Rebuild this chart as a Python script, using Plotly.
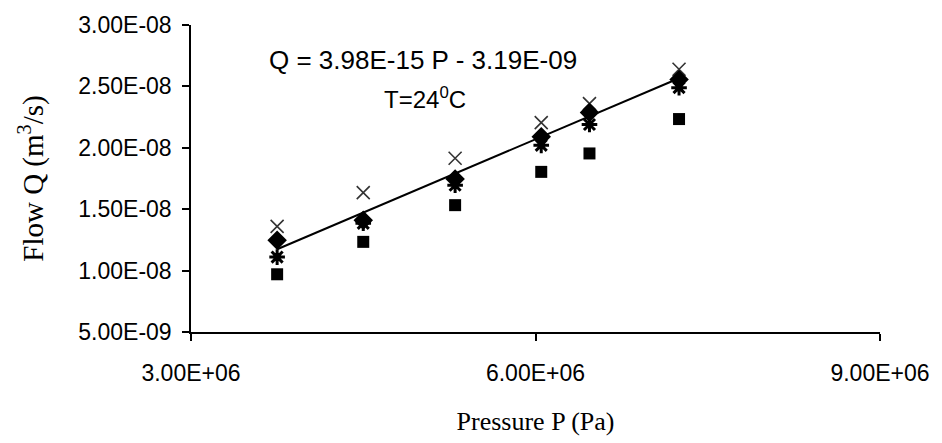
import plotly.graph_objects as go

# Data
pressure = [3.75e6, 4.50e6, 5.30e6, 6.05e6, 6.47e6, 7.25e6]
flow_diamond = [1.247e-8, 1.41e-8, 1.745e-8, 2.09e-8, 2.288e-8, 2.557e-8]
flow_square = [0.97e-8, 1.234e-8, 1.533e-8, 1.804e-8, 1.954e-8, 2.234e-8]
flow_xthin = [1.36e-8, 1.635e-8, 1.915e-8, 2.205e-8, 2.36e-8, 2.64e-8]
flow_star = [1.11e-8, 1.385e-8, 1.695e-8, 2.02e-8, 2.19e-8, 2.49e-8]

fit_slope = 3.98e-15
fit_intercept = -3.19e-9

x_tickvals = [3e6, 6e6, 9e6]
x_ticktext = ["3.00E+06", "6.00E+06", "9.00E+06"]
y_tickvals = [5e-9, 1e-8, 1.5e-8, 2e-8, 2.5e-8, 3e-8]
y_ticktext = ["5.00E-09", "1.00E-08", "1.50E-08", "2.00E-08", "2.50E-08", "3.00E-08"]

fit_x = [min(pressure), max(pressure)]
fit_y = [fit_slope * p + fit_intercept for p in fit_x]

fig = go.Figure()
fig.add_trace(go.Scatter(x=fit_x, y=fit_y, mode="lines",
                         line=dict(color="black", width=2), showlegend=False))
fig.add_trace(go.Scatter(x=pressure, y=flow_square, mode="markers",
                         marker=dict(symbol="square", size=12, color="black"), showlegend=False))
fig.add_trace(go.Scatter(x=pressure, y=flow_xthin, mode="markers",
                         marker=dict(symbol="x-thin-open", size=13, color="#333",
                                     line=dict(color="#333", width=1.6)), showlegend=False))
fig.add_trace(go.Scatter(x=pressure, y=flow_star, mode="markers",
                         marker=dict(symbol="asterisk-open", size=13, color="black",
                                     line=dict(color="black", width=3)), showlegend=False))
fig.add_trace(go.Scatter(x=pressure, y=flow_diamond, mode="markers",
                         marker=dict(symbol="diamond", size=15, color="black"), showlegend=False))

tick_font = dict(family="Liberation Sans, Arial", size=23, color="black")

fig.update_layout(
    width=942, height=443,
    margin=dict(l=191, r=57, t=25, b=106),
    paper_bgcolor="white", plot_bgcolor="white",
    xaxis=dict(range=[3e6, 9e6], tickvals=x_tickvals, ticktext=x_ticktext,
               showline=True, linecolor="black", linewidth=1.5,
               ticks="outside", ticklen=7, tickcolor="black", tickwidth=1.5,
               showgrid=False, zeroline=False, tickfont=tick_font,
               ticklabelstandoff=13,
               title=dict(text="Pressure P (Pa)",
                          font=dict(family="Liberation Serif, Times New Roman", size=26, color="black"),
                          standoff=26)),
    yaxis=dict(range=[5e-9, 3e-8], tickvals=y_tickvals, ticktext=y_ticktext,
               showline=True, linecolor="black", linewidth=1.5,
               ticks="outside", ticklen=7, tickcolor="black", tickwidth=1.5,
               showgrid=False, zeroline=False, tickfont=tick_font,
               ticklabelstandoff=6,
               title=dict(text="Flow Q (m<sup>3</sup>/s)",
                          font=dict(family="Liberation Serif, Times New Roman", size=29, color="black"),
                          standoff=26)),
    annotations=[
        dict(text="Q = 3.98E-15 P - 3.19E-09", x=425, y=43, xref="paper", yref="paper",
             showarrow=False, font=dict(family="Liberation Sans, Arial", size=26, color="black")),
        dict(text="T=24<sup>0</sup>C", x=427, y=82, xref="paper", yref="paper",
             showarrow=False, font=dict(family="Liberation Sans, Arial", size=24, color="black")),
    ],
)

# convert pixel positions of annotations into paper coords
pw = 942 - 191 - 57
ph = 443 - 25 - 106
for a in fig.layout.annotations:
    a.x = (a.x - 191) / pw
    a.y = 1 - (a.y - 25) / ph

fig.write_html("out.html")
